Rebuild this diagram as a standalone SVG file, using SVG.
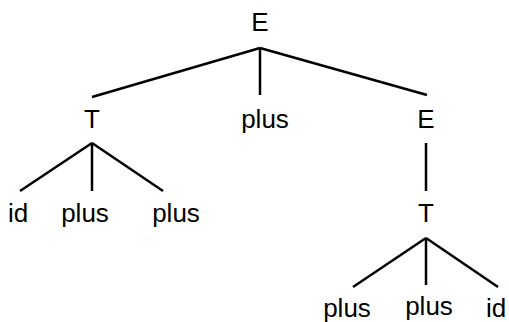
<svg xmlns="http://www.w3.org/2000/svg" width="509" height="322" viewBox="0 0 509 322">
<style>
text{font-family:"Liberation Sans",Arial,sans-serif;font-size:26px;fill:#000;text-anchor:middle}
.e line{stroke:#000;stroke-width:2.5;stroke-linecap:butt}
</style>
<rect width="509" height="322" fill="#fff"/>
<g class="e" id="connectors">
<line x1="260" y1="48" x2="92" y2="97"/>
<line x1="260" y1="48" x2="260" y2="95"/>
<line x1="260" y1="48" x2="427" y2="95"/>
<line x1="92" y1="143" x2="20" y2="191"/>
<line x1="92" y1="143" x2="92" y2="191"/>
<line x1="92" y1="143" x2="163" y2="191"/>
<line x1="426" y1="143" x2="426" y2="191"/>
<line x1="426" y1="238" x2="353" y2="287"/>
<line x1="426" y1="238" x2="426" y2="285"/>
<line x1="426" y1="238" x2="498" y2="287"/>
</g>
<g id="n-E-root"><text x="260" y="31">E</text></g>
<g id="n-T-left"><text x="92" y="128">T</text></g>
<g id="n-plus-mid"><text x="265" y="128">plus</text></g>
<g id="n-E-right"><text x="426" y="128">E</text></g>
<g id="n-id-1"><text x="18" y="222">id</text></g>
<g id="n-plus-1"><text x="85" y="222">plus</text></g>
<g id="n-plus-2"><text x="176" y="222">plus</text></g>
<g id="n-T-right"><text x="426" y="222">T</text></g>
<g id="n-plus-3"><text x="347" y="317">plus</text></g>
<g id="n-plus-4"><text x="429" y="315">plus</text></g>
<g id="n-id-2"><text x="496" y="317">id</text></g>
</svg>
